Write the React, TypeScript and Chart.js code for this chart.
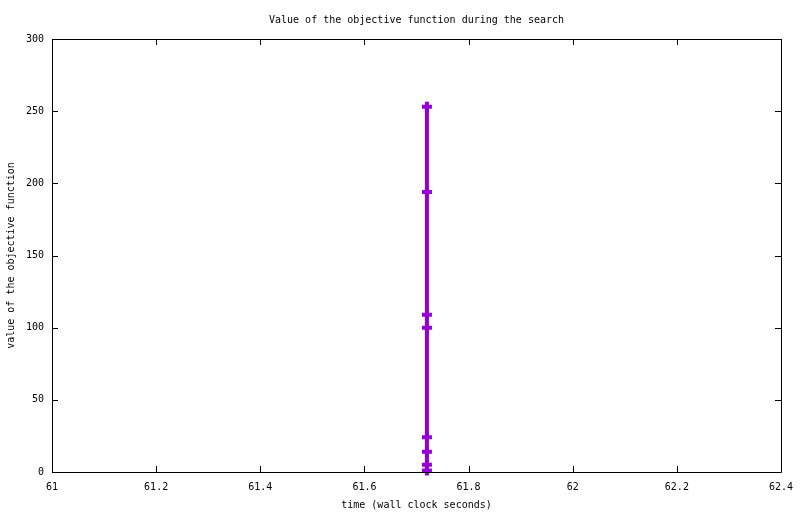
import React, { useEffect, useRef } from "react";
import { Chart, registerables } from "chart.js";

Chart.register(...registerables);

const chartTitle = "Value of the objective function during the search";
const xAxisTitle = "time (wall clock seconds)";
const yAxisTitle = "value of the objective function";

const times = [61.72, 61.72, 61.72, 61.72, 61.72, 61.72, 61.72, 61.72];
const objectiveValues = [253, 194, 109, 100, 24, 14, 5, 1];

const xTickValues = [61, 61.2, 61.4, 61.6, 61.8, 62, 62.2, 62.4];
const yTickValues = [0, 50, 100, 150, 200, 250, 300];

const FONT = "'DejaVu Sans Mono', 'Liberation Mono', monospace";
const PURPLE = "#9400D3";

const frameTicksPlugin = {
  id: "frameTicks",
  afterDraw(chart: any) {
    const { ctx, chartArea } = chart;
    const { left, right, top, bottom } = chartArea;
    const xs = chart.scales.x;
    const ys = chart.scales.y;
    const len = 6;
    ctx.save();
    ctx.strokeStyle = "#000";
    ctx.lineWidth = 1;
    ctx.beginPath();
    ctx.rect(Math.round(left) + 0.5, Math.round(top) + 0.5, Math.round(right - left), Math.round(bottom - top));
    ctx.stroke();
    ctx.beginPath();
    for (const v of xTickValues) {
      const px = Math.round(xs.getPixelForValue(v)) + 0.5;
      ctx.moveTo(px, bottom);
      ctx.lineTo(px, bottom - len);
      ctx.moveTo(px, top);
      ctx.lineTo(px, top + len);
    }
    for (const v of yTickValues) {
      const py = Math.round(ys.getPixelForValue(v)) + 0.5;
      ctx.moveTo(left, py);
      ctx.lineTo(left + len, py);
      ctx.moveTo(right, py);
      ctx.lineTo(right - len, py);
    }
    ctx.stroke();
    ctx.restore();
  },
};

export default function App() {
  const canvasRef = useRef<HTMLCanvasElement | null>(null);

  useEffect(() => {
    if (!canvasRef.current) return;
    const data = times.map((t, i) => ({ x: t, y: objectiveValues[i] }));
    const chart = new Chart(canvasRef.current, {
      type: "line",
      data: {
        datasets: [
          {
            data,
            borderColor: PURPLE,
            backgroundColor: PURPLE,
            borderWidth: 4,
            pointStyle: "cross",
            pointRadius: 5,
            pointBorderWidth: 4,
            pointBorderColor: PURPLE,
            pointHoverRadius: 5,
            tension: 0,
            clip: false as any,
          },
        ],
      },
      options: {
        animation: false,
        responsive: false,
        layout: { padding: { left: 0, right: 19, top: 0, bottom: 0 } },
        plugins: {
          legend: { display: false },
          tooltip: { enabled: false },
          title: {
            display: true,
            text: chartTitle,
            fullSize: false,
            color: "#000",
            font: { family: FONT, size: 10, weight: "normal" },
            padding: { top: 14, bottom: 13 },
          },
        },
        scales: {
          x: {
            type: "linear",
            min: 61,
            max: 62.4,
            afterBuildTicks: (scale: any) => {
              scale.ticks = xTickValues.map((v) => ({ value: v }));
            },
            afterFit: (scale: any) => {
              scale.height = 42;
              scale.paddingRight = 19;
              scale.paddingLeft = 10;
            },
            grid: { display: false, drawTicks: false },
            border: { display: false },
            ticks: {
              color: "#000",
              font: { family: FONT, size: 10 },
              padding: 9,
              maxRotation: 0,
              autoSkip: false,
              callback: (v: any) => String(Number(Number(v).toFixed(1))),
            },
            title: {
              display: true,
              text: xAxisTitle,
              color: "#000",
              font: { family: FONT, size: 10 },
              padding: { top: 0, bottom: 3 },
            },
          },
          y: {
            type: "linear",
            min: 0,
            max: 300,
            afterBuildTicks: (scale: any) => {
              scale.ticks = yTickValues.map((v) => ({ value: v }));
            },
            afterFit: (scale: any) => {
              scale.width = 52;
            },
            grid: { display: false, drawTicks: false },
            border: { display: false },
            ticks: {
              color: "#000",
              font: { family: FONT, size: 10 },
              padding: 8,
              autoSkip: false,
              callback: (v: any) => String(v),
            },
            title: {
              display: true,
              text: yAxisTitle,
              color: "#000",
              font: { family: FONT, size: 10 },
              padding: { top: 5, bottom: 0 },
            },
          },
        },
      },
      plugins: [frameTicksPlugin],
    });
    return () => chart.destroy();
  }, []);

  return (
    <div style={{ position: "absolute", left: 0, top: 0, width: 800, height: 514, background: "#fff" }}>
      <canvas ref={canvasRef} width={800} height={514} />
    </div>
  );
}
